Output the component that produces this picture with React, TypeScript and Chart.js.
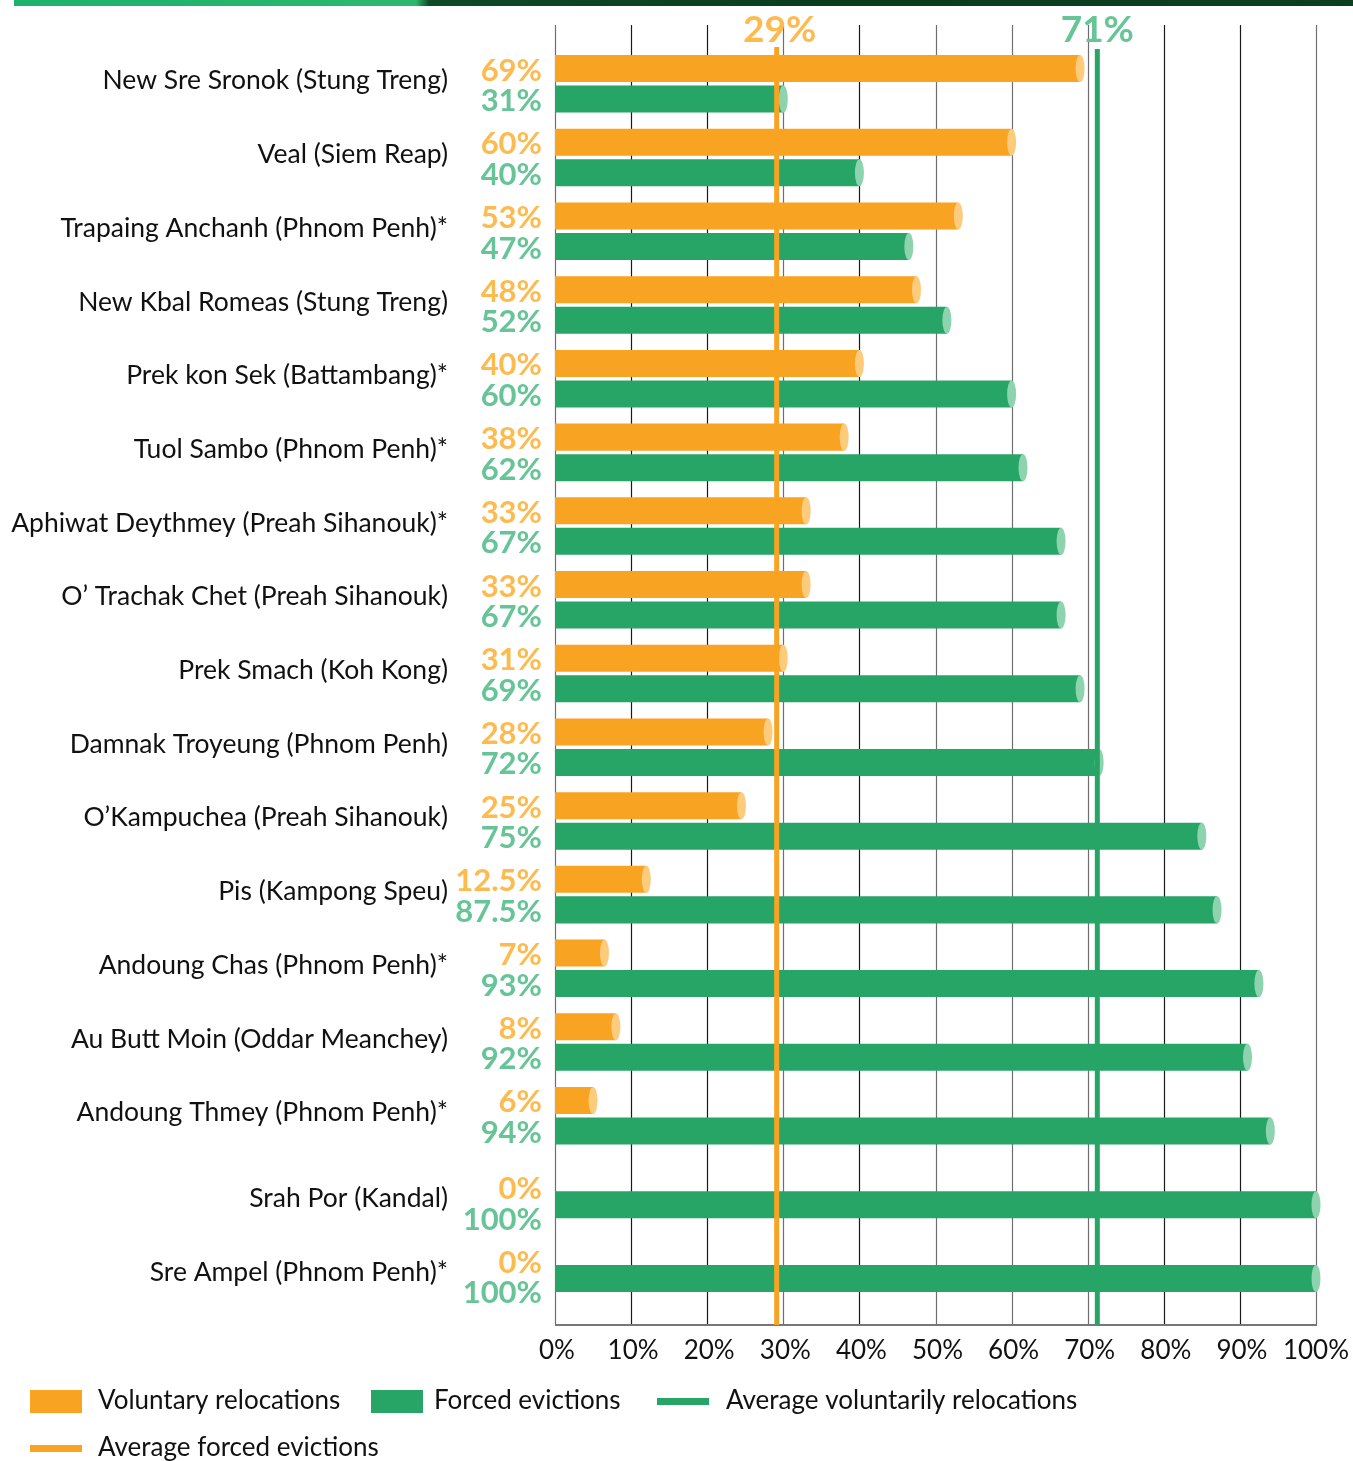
import React, { useEffect, useRef } from "react";
import { Chart, registerables } from "chart.js";

Chart.register(...registerables);

const CATEGORIES = [
  "New Sre Sronok (Stung Treng)",
  "Veal (Siem Reap)",
  "Trapaing Anchanh (Phnom Penh)*",
  "New Kbal Romeas (Stung Treng)",
  "Prek kon Sek (Battambang)*",
  "Tuol Sambo (Phnom Penh)*",
  "Aphiwat Deythmey (Preah Sihanouk)*",
  "O’ Trachak Chet (Preah Sihanouk)",
  "Prek Smach (Koh Kong)",
  "Damnak Troyeung (Phnom Penh)",
  "O’Kampuchea (Preah Sihanouk)",
  "Pis (Kampong Speu)",
  "Andoung Chas (Phnom Penh)*",
  "Au Butt Moin (Oddar Meanchey)",
  "Andoung Thmey (Phnom Penh)*",
  "Srah Por (Kandal)",
  "Sre Ampel (Phnom Penh)*",
];

// bar lengths as drawn in the picture
const VOLUNTARY = [69, 60, 53, 47.5, 40, 38, 33, 33, 30, 28, 24.5, 12, 6.5, 8, 5, 0, 0];
const FORCED = [30, 40, 46.5, 51.5, 60, 61.5, 66.5, 66.5, 69, 71.5, 85, 87, 92.5, 91, 94, 100, 100];

// printed value labels
const VOLUNTARY_LABELS = ["69%", "60%", "53%", "48%", "40%", "38%", "33%", "33%", "31%", "28%", "25%", "12.5%", "7%", "8%", "6%", "0%", "0%"];
const FORCED_LABELS = ["31%", "40%", "47%", "52%", "60%", "62%", "67%", "67%", "69%", "72%", "75%", "87.5%", "93%", "92%", "94%", "100%", "100%"];

const X_TICKS = [0, 10, 20, 30, 40, 50, 60, 70, 80, 90, 100];
const AVG_ORANGE = 29;
const AVG_GREEN = 71;

const LEGEND_LABELS = [
  "Voluntary relocations",
  "Forced evictions",
  "Average voluntarily relocations",
  "Average forced evictions",
];

const ORANGE = "#F9A323";
const GREEN = "#27A567";
const ORANGE_CAP = "#FDCB7C";
const GREEN_CAP = "#8DD4AE";
const ORANGE_TEXT = "#FDBB4F";
const GREEN_TEXT = "#66C497";
const FONT = "Lato, 'Open Sans', sans-serif";

const decorPlugin = {
  id: "decor",
  beforeDraw(chart: any) {
    const { ctx, chartArea, scales } = chart;
    const x = scales.x;
    ctx.save();
    ctx.fillStyle = "#fff";
    ctx.fillRect(0, 0, chart.width, chart.height);
    // top banner strip
    const g = ctx.createLinearGradient(14, 0, 1353, 0);
    g.addColorStop(0, "#1FB26B");
    g.addColorStop(0.12, "#22B46C");
    g.addColorStop(0.3, "#2DB872");
    g.addColorStop(0.31, "#0E4A26");
    g.addColorStop(0.6, "#0A3D1F");
    g.addColorStop(1, "#0C3F22");
    ctx.fillStyle = g;
    ctx.fillRect(14, 0, 1353 - 14, 6);
    // vertical grid lines
    const top = chartArea.top - 22;
    const bottom = chartArea.bottom + 25;
    X_TICKS.forEach((v) => {
      const px = Math.round(x.getPixelForValue(v)) + 0.5;
      ctx.strokeStyle = v === 0 || v === 100 || (v >= 50 && v <= 70) || v === 30 ? "#6e6e6e" : "#1a1a1a";
      ctx.lineWidth = 1.2;
      ctx.beginPath();
      ctx.moveTo(px, top);
      ctx.lineTo(px, bottom);
      ctx.stroke();
    });
    ctx.strokeStyle = "#777";
    ctx.lineWidth = 2;
    ctx.beginPath();
    ctx.moveTo(x.getPixelForValue(0), bottom);
    ctx.lineTo(x.getPixelForValue(100) + 1, bottom);
    ctx.stroke();
    // x tick labels
    ctx.font = `26px ${FONT}`;
    ctx.fillStyle = "#111";
    ctx.textAlign = "center";
    ctx.textBaseline = "middle";
    X_TICKS.forEach((v) => {
      ctx.fillText(`${v}%`, x.getPixelForValue(v) + (v === 100 ? 0 : 2), bottom + 26);
    });
    ctx.restore();
  },
  afterDatasetsDraw(chart: any) {
    const { ctx, chartArea, scales } = chart;
    const x = scales.x;
    const m0 = chart.getDatasetMeta(0);
    const m1 = chart.getDatasetMeta(1);
    ctx.save();
    // cylinder caps
    [m0, m1].forEach((meta: any, di: number) => {
      meta.data.forEach((bar: any, i: number) => {
        const v = di === 0 ? VOLUNTARY[i] : FORCED[i];
        if (!v) return;
        ctx.fillStyle = di === 0 ? ORANGE_CAP : GREEN_CAP;
        ctx.beginPath();
        ctx.ellipse(bar.x, bar.y, 4.5, bar.height / 2, 0, 0, Math.PI * 2);
        ctx.fill();
      });
    });
    const bottom = chartArea.bottom + 25;
    // average lines
    const xo = x.getPixelForValue(AVG_ORANGE) + 1;
    const xg = x.getPixelForValue(AVG_GREEN) + 2;
    ctx.fillStyle = ORANGE;
    ctx.fillRect(xo - 2.5, chartArea.top, 5, bottom - chartArea.top);
    ctx.fillStyle = GREEN;
    ctx.fillRect(xg - 2.5, chartArea.top + 2, 5, bottom - chartArea.top - 2);
    ctx.font = `bold 37px ${FONT}`;
    ctx.textAlign = "center";
    ctx.textBaseline = "middle";
    ctx.fillStyle = ORANGE_TEXT;
    ctx.fillText(`${AVG_ORANGE}%`, xo + 3, 30);
    ctx.fillStyle = GREEN_TEXT;
    ctx.fillText(`${AVG_GREEN}%`, xg, 30);

    // labels
    m0.data.forEach((bo: any, i: number) => {
      const bg = m1.data[i];
      const zero = VOLUNTARY[i] === 0;
      const shift = zero ? 15 : 2;
      ctx.textAlign = "right";
      ctx.textBaseline = "middle";
      ctx.font = `bold 31px ${FONT}`;
      ctx.fillStyle = ORANGE_TEXT;
      ctx.fillText(VOLUNTARY_LABELS[i], 542, bo.y + shift);
      ctx.fillStyle = GREEN_TEXT;
      ctx.fillText(FORCED_LABELS[i], 542, bg.y + shift);
      ctx.font = `26.5px ${FONT}`;
      ctx.fillStyle = "#111";
      const cy = (bo.y + bg.y) / 2 + (zero ? 9 : -3);
      ctx.fillText(CATEGORIES[i], 448, cy);
    });
    ctx.restore();
  },
  afterDraw(chart: any) {
    const { ctx } = chart;
    ctx.save();
    ctx.font = `26px ${FONT}`;
    ctx.textAlign = "left";
    ctx.textBaseline = "middle";
    ctx.fillStyle = ORANGE;
    ctx.fillRect(30, 1390, 52, 23);
    ctx.fillStyle = GREEN;
    ctx.fillRect(371, 1390, 52, 23);
    ctx.fillRect(657, 1398, 52, 7);
    ctx.fillStyle = ORANGE;
    ctx.fillRect(30, 1445, 52, 7);
    ctx.fillStyle = "#111";
    ctx.fillText(LEGEND_LABELS[0], 98, 1401);
    ctx.fillText(LEGEND_LABELS[1], 434, 1401);
    ctx.fillText(LEGEND_LABELS[2], 726, 1401);
    ctx.fillText(LEGEND_LABELS[3], 98, 1448);
    ctx.restore();
  },
};

export default function App() {
  const ref = useRef<HTMLCanvasElement | null>(null);
  useEffect(() => {
    document.body.style.margin = "0";
    const canvas = ref.current;
    if (!canvas) return;
    const chart = new Chart(canvas, {
      type: "bar",
      data: {
        labels: CATEGORIES,
        datasets: [
          {
            label: LEGEND_LABELS[0],
            data: VOLUNTARY,
            backgroundColor: ORANGE,
            borderWidth: 0,
            categoryPercentage: 0.828,
            barPercentage: 0.885,
          },
          {
            label: LEGEND_LABELS[1],
            data: FORCED,
            backgroundColor: GREEN,
            borderWidth: 0,
            categoryPercentage: 0.828,
            barPercentage: 0.885,
          },
        ],
      },
      options: {
        indexAxis: "y",
        responsive: false,
        maintainAspectRatio: false,
        animation: false,
        devicePixelRatio: 1,
        layout: { padding: { left: 555, right: 37, top: 47, bottom: 161 } },
        plugins: {
          legend: { display: false },
          tooltip: { enabled: false },
        },
        scales: {
          y: {
            type: "category",
            display: false,
            grid: { display: false },
          },
          x: {
            type: "linear",
            min: 0,
            max: 100,
            display: false,
          },
        },
      },
      plugins: [decorPlugin],
    } as any);
    return () => chart.destroy();
  }, []);
  return (
    <div style={{ width: 1353, height: 1461 }}>
      <canvas ref={ref} width={1353} height={1461} style={{ display: "block" }} />
    </div>
  );
}
